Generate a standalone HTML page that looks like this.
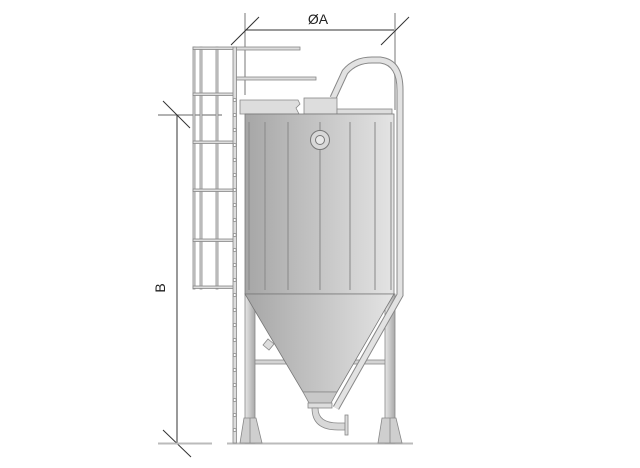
<!DOCTYPE html>
<html><head><style>html,body{margin:0;padding:0;background:#fff}svg{display:block}</style></head><body>
<svg width="640" height="468" viewBox="0 0 640 468" xmlns="http://www.w3.org/2000/svg">
<defs>
<linearGradient id="g" x1="0" x2="1" y1="0" y2="0"><stop offset="0" stop-color="#a6a6a6"/><stop offset="1" stop-color="#e4e4e4"/></linearGradient>
<linearGradient id="leg" x1="0" x2="1"><stop offset="0" stop-color="#e6e6e6"/><stop offset=".5" stop-color="#c8c8c8"/><stop offset="1" stop-color="#a8a8a8"/></linearGradient>
</defs>
<g stroke="#333" stroke-width="1" fill="none">
<!-- dimension A -->
<line x1="245" y1="30" x2="395" y2="30"/>
<line x1="245" y1="13" x2="245" y2="95" stroke="#777"/>
<line x1="395" y1="13" x2="395" y2="110" stroke="#bbb" stroke-width="2"/>
<line x1="231" y1="45" x2="259" y2="17"/>
<line x1="381" y1="45" x2="409" y2="17"/>
<!-- dimension B -->
<line x1="177" y1="115" x2="177" y2="443"/>
<line x1="158" y1="115" x2="222" y2="115" stroke="#666"/>
<line x1="163" y1="101" x2="190" y2="128"/>
<line x1="163" y1="430" x2="191" y2="457"/>
</g>
<line x1="158" y1="443.5" x2="212" y2="443.5" stroke="#bbb" stroke-width="2"/>
<line x1="227" y1="443.5" x2="413" y2="443.5" stroke="#bbb" stroke-width="2"/>
<text x="318" y="24" font-family="Liberation Sans, sans-serif" font-size="14" text-anchor="middle" fill="#222">ØA</text>
<text transform="translate(165,288) rotate(-90)" font-family="Liberation Sans, sans-serif" font-size="14" text-anchor="middle" fill="#222">B</text>

<!-- cage -->
<g fill="#ddd" stroke="#888" stroke-width="0.8">
<rect x="193" y="47" width="2" height="242"/>
<rect x="200" y="47" width="2" height="242"/>
<rect x="216" y="47" width="2" height="242"/>
<rect x="193" y="47" width="42" height="2.5"/>
<rect x="193" y="93" width="42" height="2.5"/>
<rect x="193" y="141" width="42" height="2.5"/>
<rect x="193" y="189" width="42" height="2.5"/>
<rect x="193" y="239" width="42" height="2.5"/>
<rect x="193" y="286" width="42" height="2.5"/>
<rect x="236" y="47" width="64" height="3"/>
<rect x="236" y="77" width="80" height="3"/>
<rect x="233" y="47" width="3.5" height="396"/>
</g>
<g fill="#fff" stroke="#888" stroke-width="0.7">
<circle cx="234.7" cy="100" r="1.5"/><circle cx="234.7" cy="115" r="1.5"/><circle cx="234.7" cy="130" r="1.5"/><circle cx="234.7" cy="145" r="1.5"/><circle cx="234.7" cy="160" r="1.5"/><circle cx="234.7" cy="175" r="1.5"/><circle cx="234.7" cy="190" r="1.5"/><circle cx="234.7" cy="205" r="1.5"/><circle cx="234.7" cy="220" r="1.5"/><circle cx="234.7" cy="235" r="1.5"/><circle cx="234.7" cy="250" r="1.5"/><circle cx="234.7" cy="265" r="1.5"/><circle cx="234.7" cy="280" r="1.5"/><circle cx="234.7" cy="295" r="1.5"/><circle cx="234.7" cy="310" r="1.5"/><circle cx="234.7" cy="325" r="1.5"/><circle cx="234.7" cy="340" r="1.5"/><circle cx="234.7" cy="355" r="1.5"/><circle cx="234.7" cy="370" r="1.5"/><circle cx="234.7" cy="385" r="1.5"/><circle cx="234.7" cy="400" r="1.5"/><circle cx="234.7" cy="415" r="1.5"/><circle cx="234.7" cy="430" r="1.5"/>
</g>

<!-- legs -->
<g stroke="#888" stroke-width="0.8">
<rect x="254" y="360" width="132" height="4" fill="#d4d4d4"/>
<rect x="245" y="294" width="10" height="149" fill="url(#leg)"/>
<rect x="385" y="294" width="10" height="149" fill="url(#leg)"/>
<polygon points="240,443 244,418 256,418 262,443" fill="#cfcfcf"/>
<polygon points="378,443 382,418 396,418 402,443" fill="#cfcfcf"/>
</g>
<g stroke="#888" stroke-width="0.8" fill="none"><line x1="250" y1="418" x2="250" y2="443"/><line x1="390" y1="418" x2="390" y2="443"/></g>

<!-- pipe -->
<path d="M333,98 L345,72 Q355,60 372,60 L380,60 Q400,62 400,90 L400,295 L336,408" fill="none" stroke="#888" stroke-width="7"/>
<path d="M333,98 L345,72 Q355,60 372,60 L380,60 Q400,62 400,90 L400,295 L336,408" fill="none" stroke="#e2e2e2" stroke-width="5"/>
<!-- top -->
<g stroke="#888" stroke-width="0.8">
<path d="M240,100 L298,100 L300,104 L296,108 L299,114 L240,114 Z" fill="#ddd"/>
<rect x="304" y="98" width="33" height="16" fill="#ddd"/>
<rect x="337" y="109" width="55" height="5" fill="#ddd"/>
<!-- tank -->
<rect x="245" y="114" width="149" height="180" fill="url(#g)" stroke="#777"/>
<polygon points="245,294 394,294 337,392 303,392" fill="url(#g)" stroke="#777"/>
<polygon points="303,392 337,392 331,403 309,403" fill="#c8c8c8"/>
<rect x="308" y="403" width="24" height="5" fill="#ddd"/>
<path d="M312,408 L318,408 Q318,423 338,423 L345,423 L345,430 L338,430 Q312,430 312,408 Z" fill="#d8d8d8"/>
<rect x="345" y="415" width="3" height="20" fill="#ddd"/>
<polygon points="263,345 268,339 274,344 269,350" fill="#ddd"/>
</g>
<g stroke="#888" stroke-width="1">
<line x1="249" y1="122" x2="249" y2="290"/><line x1="265" y1="122" x2="265" y2="290"/><line x1="288" y1="122" x2="288" y2="290"/><line x1="320" y1="122" x2="320" y2="290"/><line x1="350" y1="122" x2="350" y2="290"/><line x1="375" y1="122" x2="375" y2="290"/><line x1="391" y1="122" x2="391" y2="290"/>
</g>
<circle cx="320" cy="140" r="9.5" fill="#d8d8d8" stroke="#777"/>
<circle cx="320" cy="140" r="4.5" fill="#e8e8e8" stroke="#777"/>
</svg>
</body></html>
